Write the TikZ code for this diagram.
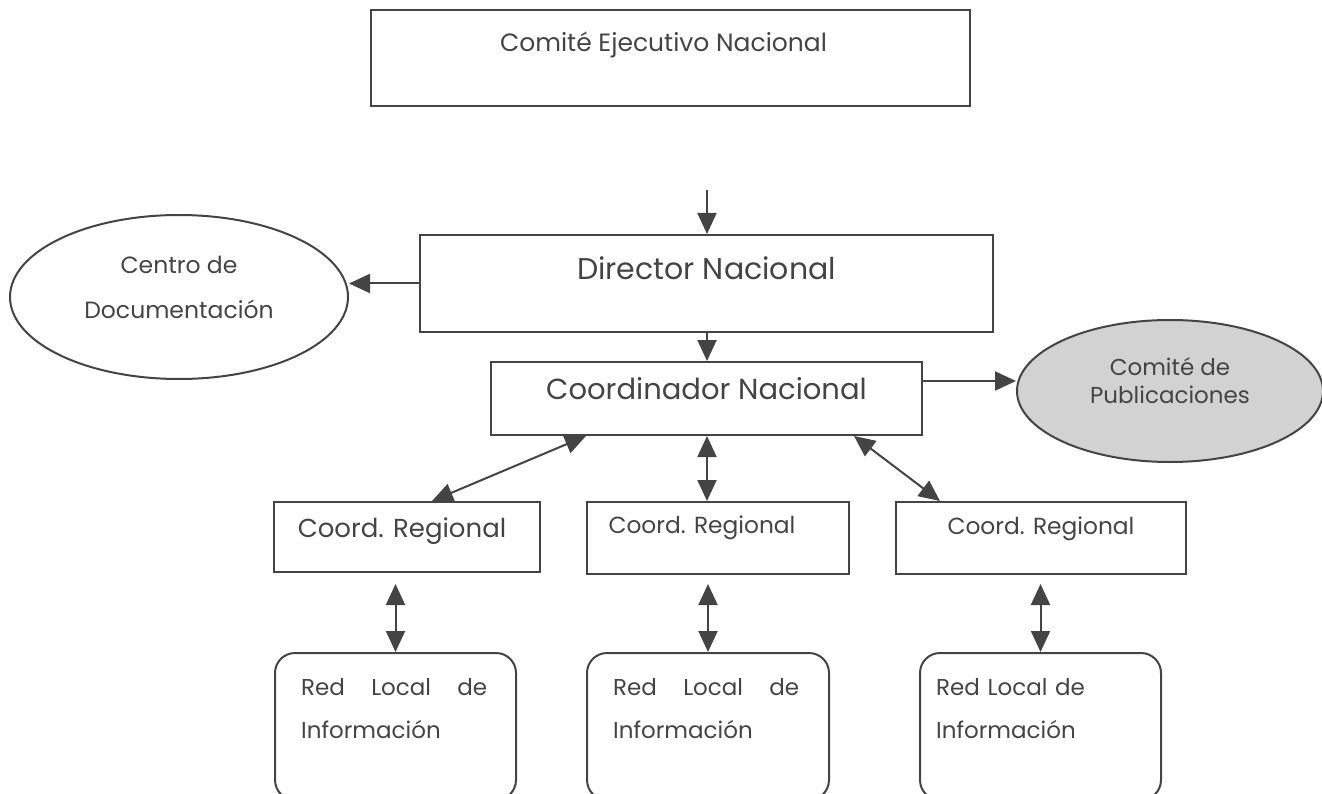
\documentclass[tikz,border=0pt]{standalone}
\usepackage{fontspec}
\setmainfont{Poppins}
\usetikzlibrary{arrows.meta,shapes.geometric,calc}
\definecolor{ink}{HTML}{444444}
\definecolor{pubfill}{HTML}{D2D2D2}
\begin{document}
\begin{tikzpicture}[x=1pt,y=-1pt,
  box/.style={draw=ink, line width=2pt, rectangle, inner sep=0pt},
  rbox/.style={box, rounded corners=20pt},
  oval/.style={draw=ink, line width=2pt, ellipse, inner sep=0pt},
  lbl/.style={text=ink, inner sep=0pt},
  arr/.style={draw=ink, line width=2pt, -{Triangle[length=21pt,width=19pt]}},
  darr/.style={draw=ink, line width=2pt, {Triangle[length=21pt,width=19pt]}-{Triangle[length=21pt,width=19pt]}},
]
\useasboundingbox (0,0) rectangle (1322,794);

\node[box, minimum width=599pt, minimum height=96pt,
  label={[lbl, font=\fontsize{25}{30}\selectfont, xshift=-7pt, yshift=13pt]center:Comité Ejecutivo Nacional}] (cen) at (670.5,58) {};

\node[box, minimum width=573pt, minimum height=97pt,
  label={[lbl, font=\fontsize{30}{36}\selectfont, yshift=15pt]center:Director Nacional}] (dir) at (706.5,283.5) {};

\node[box, minimum width=431pt, minimum height=73pt,
  label={[lbl, font=\fontsize{29}{34}\selectfont, yshift=10pt]center:Coordinador Nacional}] (coord) at (706.5,398.5) {};

\node[oval, minimum width=338pt, minimum height=164pt,
  label={[lbl, align=center, font=\fontsize{23.5}{45}\selectfont, yshift=9.5pt]center:Centro de\\Documentación}] (cdoc) at (179,297) {};

\node[oval, fill=pubfill, minimum width=306pt, minimum height=142pt,
  label={[lbl, align=center, font=\fontsize{23}{28}\selectfont, yshift=10pt]center:Comité de\\Publicaciones}] (pub) at (1170,391) {};

\node[box, minimum width=266pt, minimum height=70pt,
  label={[lbl, font=\fontsize{26}{30}\selectfont, xshift=-5pt, yshift=6pt]center:Coord. Regional}] (reg1) at (407,537) {};
\node[box, minimum width=262pt, minimum height=72pt,
  label={[lbl, font=\fontsize{23.3}{27}\selectfont, xshift=-16pt, yshift=10pt]center:Coord. Regional}] (reg2) at (718,538) {};
\node[box, minimum width=290pt, minimum height=72pt,
  label={[lbl, font=\fontsize{23.3}{27}\selectfont, yshift=9pt]center:Coord. Regional}] (reg3) at (1041,538) {};

\node[rbox, minimum width=241pt, minimum height=147pt,
  label={[lbl, anchor=north west, text width=186pt, align=justify, font=\fontsize{23}{43}\selectfont, xshift=27pt, yshift=-26pt]north west:Red Local de\linebreak Información}] (red1) at (395.5,726.5) {};
\node[rbox, minimum width=242pt, minimum height=147pt,
  label={[lbl, anchor=north west, text width=186pt, align=justify, font=\fontsize{23}{43}\selectfont, xshift=27pt, yshift=-26pt]north west:Red Local de\linebreak Información}] (red2) at (708,726.5) {};
\node[rbox, minimum width=241pt, minimum height=147pt,
  label={[lbl, anchor=north west, text width=200pt, align=left, font=\fontsize{23}{43}\selectfont, xshift=17pt, yshift=-26pt]north west:Red Local de\\Información}] (red3) at (1040.5,726.5) {};

% connectors
\coordinate (topin) at (707,190);
\draw[arr] (topin) -- (topin |- dir.north);
\draw[arr] (dir.west) -- (dir.west -| cdoc.east);
\draw[arr] (topin |- dir.south) -- (topin |- coord.north);
\coordinate (pubout) at ($(coord.north east)+(0,20)$);
\draw[arr] (pubout) -- (pubout -| pub.west);

\draw[darr] ($(coord.south west)+(96,0)$) -- ($(reg1.north)+(25,0)$);
\draw[darr] (topin |- coord.south) -- (topin |- reg2.north);
\draw[darr] ($(coord.south east)+(-69,0)$) -- ($(reg3.north)+(-101,0)$);

\draw[darr] ($(reg1.south -| red1.north)+(0,11)$) -- (red1.north);
\draw[darr] ($(reg2.south -| red2.north)+(0,9)$) -- (red2.north);
\draw[darr] ($(reg3.south -| red3.north)+(0,9)$) -- (red3.north);
\end{tikzpicture}
\end{document}
